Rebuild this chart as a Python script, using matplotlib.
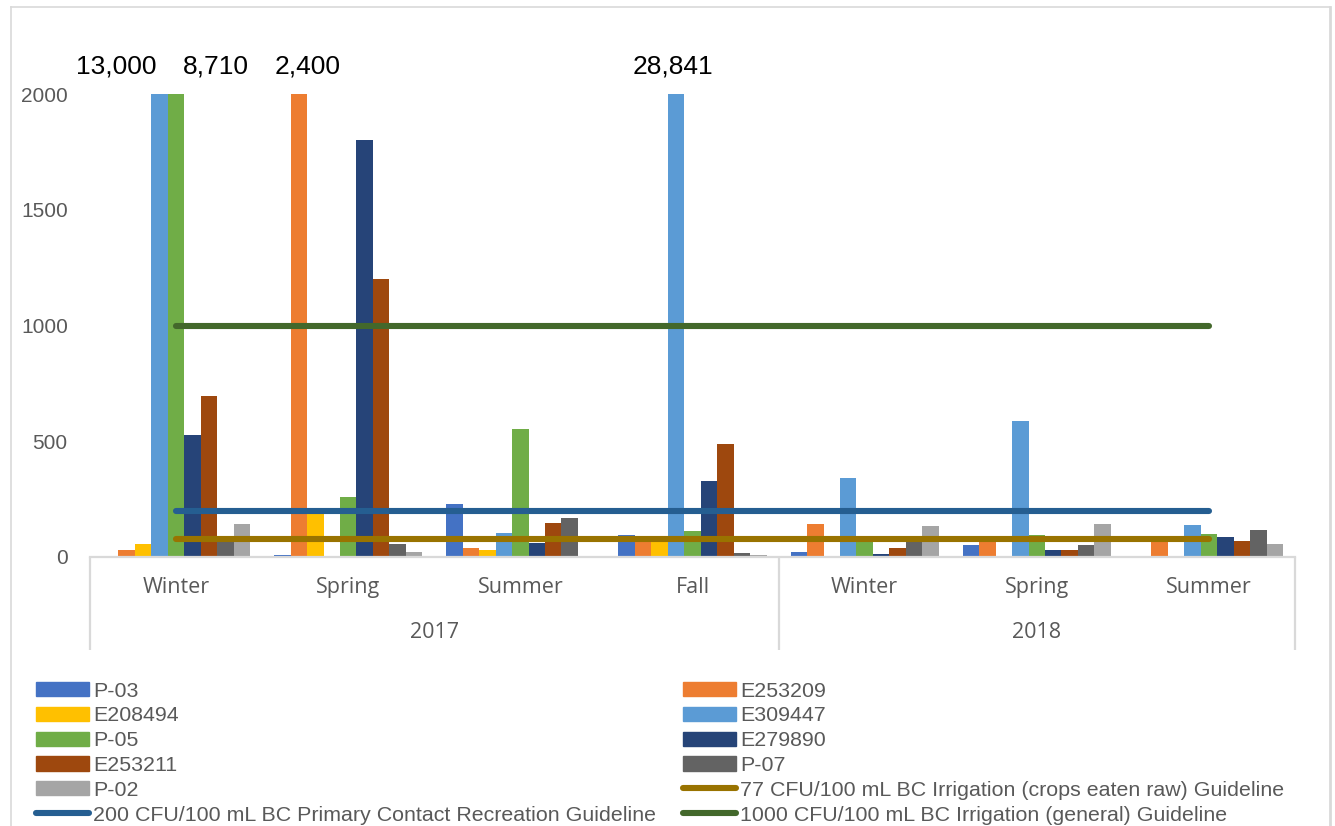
import matplotlib
matplotlib.use("Agg")
import matplotlib.pyplot as plt
from matplotlib.lines import Line2D
from matplotlib.patches import Patch
import numpy as np

# seasons and sampling years
seasons = ["Winter", "Spring", "Summer", "Fall", "Winter", "Spring", "Summer"]
years = ["2017", "2018"]
seasons_per_year = [4, 3]

# E. coli counts (CFU/100 mL) per station
p03 = [4, 9, 227, 94, 23, 50, 0]
e253209 = [29, 2400, 40, 70, 143, 70, 70]
e208494 = [58, 190, 29, 70, 0, 0, 0]
e309447 = [13000, 0, 105, 28841, 340, 586, 137]
p05 = [8710, 261, 554, 112, 91, 94, 98]
e279890 = [526, 1800, 59, 327, 13, 29, 86]
e253211 = [694, 1200, 148, 488, 37, 29, 68]
p07 = [70, 55, 170, 19, 70, 52, 118]
p02 = [144, 22, 0, 9, 133, 144, 58]

station_names = ["P-03", "E253209", "E208494", "E309447", "P-05",
                 "E279890", "E253211", "P-07", "P-02"]
station_values = [p03, e253209, e208494, e309447, p05,
                  e279890, e253211, p07, p02]
station_colors = ["#4472C4", "#ED7D31", "#FFC000", "#5B9BD5", "#70AD47",
                  "#264478", "#9E480E", "#636363", "#A5A5A5"]

# BC guideline values
guide_values = [77, 200, 1000]
guide_names = ["77 CFU/100 mL BC Irrigation (crops eaten raw) Guideline",
               "200 CFU/100 mL BC Primary Contact Recreation Guideline",
               "1000 CFU/100 mL BC Irrigation (general) Guideline"]
guide_colors = ["#997300", "#255E91", "#43682B"]

# off-scale bars get their value written above the plot: (station, season, x shift)
offscale = [("E309447", 0, -0.253), ("P-05", 0, 0.232),
            ("E253209", 1, 0.048), ("E309447", 3, -0.017)]

y_max = 2000
font_main = ["Liberation Sans", "DejaVu Sans"]
font_cat = ["Open Sans", "DejaVu Sans"]
grey_text = "#595959"
grey_line = "#D9D9D9"

fig = plt.figure(figsize=(13.35, 8.26), dpi=100)
ax = fig.add_axes([90 / 1335, 1 - 557 / 826, 1205 / 1335, 463 / 826])

n = len(station_names)
x = np.arange(len(seasons))
w = 0.86 / n
for i, (name, vals, col) in enumerate(zip(station_names, station_values, station_colors)):
    ax.bar(x + (i - (n - 1) / 2) * w, vals, width=w, color=col, label=name, zorder=2)

guide_handles = {}
for val, name, col in zip(guide_values, guide_names, guide_colors):
    ln, = ax.plot([x[0], x[-1]], [val, val], color=col, lw=4.4,
                  solid_capstyle="round", zorder=3, label=name)
    guide_handles[name] = ln

for name, idx, shift in offscale:
    i = station_names.index(name)
    val = station_values[i][idx]
    bx = x[idx] + (i - (n - 1) / 2) * w
    ax.text(bx + shift, y_max * 1.0585, f"{val:,}", ha="center", va="center",
            fontsize=19, family=font_main, color="black", clip_on=False)

ax.set_xlim(-0.5, len(seasons) - 0.5)
ax.set_ylim(0, y_max)
ax.set_yticks(range(0, y_max + 1, 500))
ax.tick_params(axis="y", length=0, pad=16, labelsize=15, labelcolor=grey_text)
for lab in ax.get_yticklabels():
    lab.set_family(font_main)
ax.set_xticks([])
for s in ["left", "top", "right"]:
    ax.spines[s].set_visible(False)
ax.spines["bottom"].set_color(grey_line)
ax.spines["bottom"].set_linewidth(1.6)

# two-level category axis: seasons, then years
xt = ax.get_xaxis_transform()
for xi, s in zip(x, seasons):
    ax.text(xi, -0.065, s, transform=xt, ha="center", va="center",
            fontsize=15.5, family=font_cat, color=grey_text)
start = 0
bounds = [-0.5]
for yr, cnt in zip(years, seasons_per_year):
    ax.text(start + (cnt - 1) / 2, -0.164, yr, transform=xt, ha="center",
            va="center", fontsize=15.5, family=font_cat, color=grey_text)
    start += cnt
    bounds.append(start - 0.5)
for b in bounds:
    ax.plot([b, b], [0, -0.201], transform=xt, color=grey_line, lw=1.6,
            clip_on=False, solid_capstyle="butt")

# legend laid out in two columns, row by row
items = [Patch(color=c, label=nm) for nm, c in zip(station_names, station_colors)]
items += [guide_handles[g] for g in guide_names]
left_items = items[0::2]
right_items = items[1::2]
leg_kw = dict(loc="upper left", frameon=False, borderpad=0,
              handlelength=2.48, handleheight=0.65, handletextpad=0.2,
              labelspacing=0.27, prop={"family": font_main, "size": 15.4},
              labelcolor=grey_text)
fig.legend(handles=left_items, bbox_to_anchor=(25 / 1335, 1 - 671 / 826), **leg_kw)
fig.legend(handles=right_items, bbox_to_anchor=(672 / 1335, 1 - 671 / 826), **leg_kw)

# chart border
fig.add_artist(Line2D([11 / 1335, 11 / 1335], [0, 1 - 7 / 826], transform=fig.transFigure,
                      color=grey_line, lw=1.2))
fig.add_artist(Line2D([11 / 1335, 1330 / 1335], [1 - 7 / 826, 1 - 7 / 826],
                      transform=fig.transFigure, color=grey_line, lw=1.2))
fig.add_artist(Line2D([1330 / 1335, 1330 / 1335], [0, 1 - 7 / 826], transform=fig.transFigure,
                      color=grey_line, lw=2))

fig.savefig("out.png", dpi=100, facecolor="white")
